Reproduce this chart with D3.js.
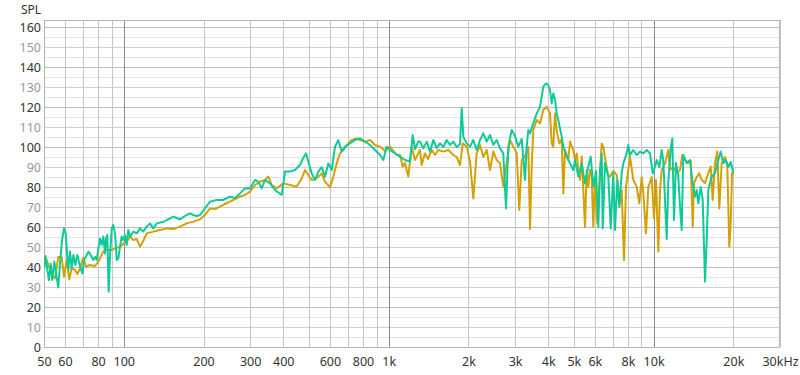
<!DOCTYPE html>
<html lang="en">
<head>
  <meta charset="UTF-8">
  <title>SPL</title>
  <script src="https://d3js.org/d3.v7.min.js"></script>
</head>
<style>
  body{
    margin:0;
    background:#fff;
    font-family: "Noto Sans", "Open Sans", Arial, sans-serif;
  }
</style>
<body>
  <div id="svg_area"></div>
<script>
var goldFreq = [50,51.2,52.7,54.2,55,56.6,58.3,59.5,60.9,62.3,63.6,65.5,66.8,68.4,70.4,72,74.6,77.9,80.2,83.7,86.2,90.1,92.7,96.8,100.2,102.6,105.6,108.7,111.9,115.2,118.5,122.1,129.3,137,145.3,153.8,163.1,172.8,183,194,
  202.6,211.6,221,230.8,241.1,251.8,263,274.7,286.9,299.6,312.9,326.8,341.3,351.3,361.8,377.8,400.2,424.2,449.6,469.6,483.2,497.3,512.2,534.9,558.7,575,600.5,618,636.5,655,674.1,696.1,725.2,757.4,779.4,814,850.2,888,927.4,968.6,1011.6,1072.2,1103.4,1129.6,1152.4,1186,1221.6,1257,1293.7,
  1313,1332,1371,1408,1454,1496,1539,1608,1679,1754,1806,1859,1903,1970,2028,2087,2149,2212,2276,2344,2413,2483,2557,2632,2708,2789,2871,2954,3043,3112,3178,3270,3366,3416,3466,3515,3620,3726,3834,3949,4064,4125,4182,4245,4308,4406,4499,4562,4630,4765,4836,4977,5051,5126,5198,5275,5353,5429,5509,5591,5670,5754,5840,5921,6009,6131,6276,6370,6459,6612,6746,6846,7046,7257,7468,7579,7732,7868,8146,8383,8634,8832,9018,9145,9361,9551,9837,10036,10212,10418,10573,10731,11042,11364,11533,11869,12224,12580,12835,13139,13522,13807,14048,14209,14545,14878,15192,15634,16089,16429,16715,17053,17398,17702,18076,18602,18977,19310,19548,19769,20000];
var goldSpl = [45,43.5,38.5,35,34.3,45,45,35.2,43.5,33.8,39.3,38.5,36.5,39.3,44.8,40.2,41,40.5,42.7,47.7,48.5,48.5,49.3,50.2,51.8,52.7,55.2,53.5,54,50.2,53,56.8,57.7,58.5,59.3,59,60.2,61.8,62.7,63.8,
  66,69.3,69,70.2,71.5,72.7,74,75.2,76,77.7,81,82.7,83.5,85.2,81,79.3,81.8,81,80.2,84.3,88.5,86,83.5,84.3,86.8,82.7,79.8,85.2,91.8,96.8,98.5,101,103.5,104.3,103.5,102.7,103.5,101,100.2,98,100.2,96,96,90.2,92,85.2,100.2,93.5,96.8,
  98.5,91,96.8,94,98.5,96,98.5,97.7,98.5,96,95,91,101.8,100.2,92.7,74.3,96.8,101,95,98.5,88.5,97.7,93.5,91.8,80.2,92,103.5,100.2,97,68.5,93.5,95.2,100,59,90,108.5,113.5,111.8,118.5,120.2,116.8,101.8,100.2,116.8,108,101.8,104,76.8,98.5,93.5,102.7,98.5,93.5,96.8,88.5,83.5,95.2,78.5,60,88.5,80.2,88.5,85.2,60.2,83.5,62,86.8,101.8,100.2,91.8,85.2,85.2,88,86,71.8,78.5,43.5,80,95.2,83.5,80.2,71.8,85,77,56.8,80,85,64.3,83.5,47.7,78.5,88.5,91.8,98.5,88.5,90,87,88.5,96,93.5,92,93,60.2,81.8,85,86.8,83.5,82,87,90.2,73.5,92,97.7,69.3,92,95,90,50.2,62,87,86];

var tealFreq = [50.1,50.7,51.5,52.2,53,53.7,54.7,55.5,56.6,57.6,58.5,59.5,60.4,61.2,61.8,62.7,63.6,64.5,65.6,66.8,68.4,69.8,70.8,72,73.5,75,76.8,77.9,79.1,80.2,81.4,82.6,83.7,85,85.7,86.7,87.7,88.7,90.1,91.3,92.7,94.1,95.4,96.8,98.2,99.6,101.1,102.6,104,105.6,108.7,111.9,115.2,118.5,122.1,125.6,129.3,133.2,137,141,145.3,149.5,153.8,158.4,163.1,167.8,172.8,177.9,183,188.5,194,
  199.1,204.4,211.6,224.3,236.9,251.8,263,274.7,286.9,299.6,312.9,322,331.7,341.3,356.5,372.3,394.6,406.1,424.2,443,462.7,474.9,487.4,497.3,512.2,527.1,542.5,558.7,575,591.7,609.5,627.2,645.4,664.8,684.1,714.5,746.3,779.4,814,850.2,888,927.4,954.4,983,1011.6,1056.5,1103.4,1152.4,1203.6,1232.2,1257,1293.7,
  1313,1351,1392,1432,1474,1518,1562,1608,1656,1704,1754,1806,1859,1887,1913,1970,2028,2087,2149,2212,2276,2344,2413,2483,2557,2632,2708,2773,2829,2913,2998,3085,3178,3270,3319,3366,3416,3515,3620,3726,3834,3925,4005,4064,4125,4182,4245,4308,4368,4433,4499,4562,4699,4836,4977,5051,5198,5353,5509,5670,5789,5921,6062,6185,6276,6370,6425,6555,6746,6888,7046,7150,7295,7422,7579,7686,7916,8027,8146,8383,8634,8886,9145,9418,9693,9923,10123,10274,10509,10731,10881,11042,11207,11364,11604,11766,11941,12150,12396,12580,12768,12947,13334,13723,14048,14332,14545,14750,15061,15324,15634,15866,16089,16571,17053,17550,17920,18329,18764,19144,19548,20000];
var tealSpl = [39.3,45.5,38.5,33.5,41.8,33.5,42.7,36.8,29.8,43.5,53.5,59.3,56.8,45.2,38.5,47.7,39.3,46,41,46,40.2,36.8,43.5,45.2,47.7,46,43.5,45,43.5,49.3,54.3,51,55.2,46.8,54.3,56,27.7,45.2,59.3,61,56.8,43.5,44.3,50.2,55.2,53.5,56,51,58.5,55.2,57.7,56.8,59.3,57.7,60.2,61.8,59.3,61.8,62.2,62.5,63.5,64.3,65.2,64.5,63.8,65,66,66.8,66,65.5,66,
  68,70,72.7,73.5,73.5,75.2,74.5,76.8,79.3,79.3,83.5,82.7,79.3,83.5,81.8,78.5,76,87.7,87.7,88.5,91,94.3,96.8,92.7,86.8,83.5,87.7,90,85.2,91.8,88.5,100.2,103.5,97.7,100.2,101.8,103.5,104.3,102.7,101,98.5,96,93.5,100.2,98.5,96.8,95.2,93.5,92.7,106,99,102.7,
  102.7,99.3,102.7,97.7,103.5,99.5,101.8,100,103.5,101,102.7,100,101.5,119.3,105.2,101.8,100.2,103.5,98.5,103.5,106.8,102.7,106,101,103.5,99.3,96.8,69.3,100.2,108.5,105.5,100.2,104,83.5,100.2,108.5,106.8,111.8,116.8,120.2,130.2,131.8,131,128.5,121.8,126.8,124,116.8,113.5,109.3,105.2,100.2,95.2,91.8,88.5,93.5,85.2,91.8,81.8,90.2,95.2,80.2,88,60,88.5,96.8,59.3,92,85.2,59.3,87,58.5,83.5,70,87,91.8,96.8,101,96,98.5,96,97.7,96.8,98.5,96.8,86.8,90,93.5,90,98.5,93,73.5,54,82,99.3,104.3,63.5,92,85.2,70.2,58.5,96,92,93.5,81.8,75.2,78.5,71.8,80,73.5,32.7,53.5,78.5,85.2,87,93.5,97.7,92,93.5,90,92.5,87];

// axis ticks
var yTicks = [0,10,20,30,40,50,60,70,80,90,100,110,120,130,140,150,160];
var xTickValues = [50,60,80,100,200,300,400,600,800,1000,2000,3000,4000,5000,6000,8000,10000,20000,30000];
var xTickLabels = ["50","60","80","100","200","300","400","600","800","1k","2k","3k","4k","5k","6k","8k","10k","20k","30kHz"];

var width = 800, height = 375;
var plotLeft = 44, plotRight = 780, plotTop = 20, plotBottom = 347;

var svg = d3.select("#svg_area").append("svg")
  .attr("width", width)
  .attr("height", height)
  .style("display", "block");

var x = d3.scaleLog().domain([50, 30000]).range([plotLeft, plotRight]);
var y = d3.scaleLinear().domain([0, 160]).range([plotBottom, 27]);

// horizontal grid, every 5 dB
var hLines = d3.range(0, 165, 5);
svg.append("g").selectAll("line")
  .data(hLines)
  .enter().append("line")
    .attr("x1", plotLeft).attr("x2", plotRight)
    .attr("y1", function(d){return Math.round(y(d)) + 0.5;})
    .attr("y2", function(d){return Math.round(y(d)) + 0.5;})
    .attr("stroke", function(d){
      if (d % 20 == 0) return "#b9b9b9";
      if (d % 10 == 0) return "#d0d0d0";
      return "#e4e4e4";
    });

// vertical grid, 1-2-3.. per decade
var vLines = [];
[10, 100, 1000, 10000].forEach(function(dec){
  for (var k = 1; k < 10; k++){
    var f = dec * k;
    if (f >= 50 && f <= 30000) vLines.push(f);
  }
});
svg.append("g").selectAll("line")
  .data(vLines)
  .enter().append("line")
    .attr("x1", function(d){return Math.round(x(d)) + 0.5;})
    .attr("x2", function(d){return Math.round(x(d)) + 0.5;})
    .attr("y1", plotTop).attr("y2", plotBottom)
    .attr("stroke", function(d){
      return (d == 100 || d == 1000 || d == 10000) ? "#8c8c8c" : "#c6c6c6";
    });

// frame
svg.append("rect")
  .attr("x", plotLeft + 0.5).attr("y", plotTop + 0.5)
  .attr("width", plotRight - plotLeft - 1).attr("height", plotBottom - plotTop)
  .attr("fill", "none")
  .attr("stroke", "#b4b4b4");

// clip for the curves
svg.append("clipPath").attr("id", "plotClip")
  .append("rect")
    .attr("x", plotLeft).attr("y", plotTop)
    .attr("width", plotRight - plotLeft).attr("height", plotBottom - plotTop);

function drawCurve(freqs, levels, colour){
  var line = d3.line()
    .x(function(d, i){return x(freqs[i]);})
    .y(function(d){return y(d);});
  svg.append("path")
    .datum(levels)
    .attr("clip-path", "url(#plotClip)")
    .attr("fill", "none")
    .attr("stroke", colour)
    .attr("stroke-width", 2)
    .attr("stroke-linejoin", "round")
    .attr("d", line);
}
drawCurve(goldFreq, goldSpl, "#d4a105");
drawCurve(tealFreq, tealSpl, "#0dcb98");

// y axis labels
var yAxis = d3.axisLeft(y).tickValues(yTicks).tickSize(0).tickPadding(3);
var gy = svg.append("g")
  .attr("transform", "translate(" + plotLeft + ",0)")
  .call(yAxis);
gy.select(".domain").remove();
gy.selectAll("text")
  .attr("font-family", "'Noto Sans', 'Open Sans', sans-serif")
  .attr("font-size", "12.5px")
  .attr("fill", function(d){return d % 20 == 0 ? "#333" : "#999";});

// x axis labels
var xAxis = d3.axisBottom(x)
  .tickValues(xTickValues)
  .tickFormat(function(d, i){return xTickLabels[i];})
  .tickSize(0)
  .tickPadding(10.5);
var gx = svg.append("g")
  .attr("transform", "translate(0," + plotBottom + ")")
  .call(xAxis);
gx.select(".domain").remove();
gx.selectAll("text")
  .attr("font-family", "'Noto Sans', 'Open Sans', sans-serif")
  .attr("font-size", "12.5px")
  .attr("fill", "#333");

// unit label
svg.append("text")
  .attr("x", 21).attr("y", 14)
  .attr("font-family", "'Noto Sans', 'Open Sans', sans-serif")
  .attr("font-size", "12px")
  .attr("fill", "#333")
  .text("SPL");
</script>
</body>
</html>
